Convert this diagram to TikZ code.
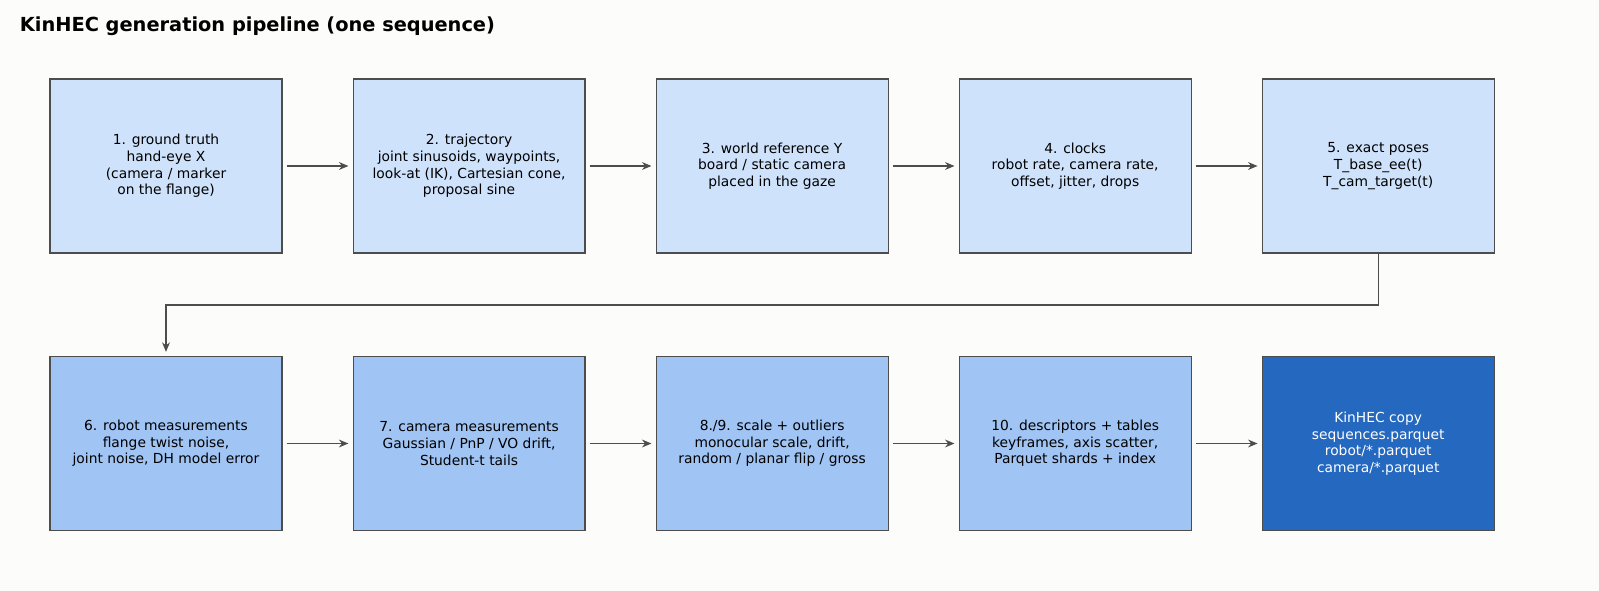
\documentclass[tikz,border=0pt]{standalone}
\usepackage{fontspec}
\setmainfont{DejaVu Sans}
\usetikzlibrary{positioning}
\usetikzlibrary{arrows.meta}
\tikzset{>={Stealth[width=2mm,length=2.4mm]}}
\definecolor{bgcol}{HTML}{FCFCFA}
\definecolor{edgecol}{HTML}{4D4D4D}
\definecolor{lightfill}{HTML}{CFE2FB}
\definecolor{midfill}{HTML}{A0C4F3}
\definecolor{darkfill}{HTML}{2468BF}

\begin{document}
\begin{tikzpicture}[x=0.0254cm, y=-0.0254cm, font=\fontsize{10}{12}\selectfont,
    stage/.style={rectangle, draw=edgecol, thick, minimum width=5.893cm, minimum height=4.42cm, align=center, inner sep=1pt},
    first/.style={stage, fill=lightfill},
    second/.style={stage, fill=midfill},
    last/.style={stage, fill=darkfill, text=white},
    link/.style={->, draw=edgecol, thick, shorten >=3pt, shorten <=3pt}]

    \fill[bgcol] (0,0) rectangle (1599,591);
    \useasboundingbox (0,0) rectangle (1599,591);
    \node[anchor=west, font=\fontsize{14}{16}\selectfont\bfseries](title) at (15,26){KinHEC generation pipeline (one sequence)};

    %Nodes
    \node[first](truth) at (166,166){1. ground truth\\hand-eye X\\(camera / marker\\on the flange)};
    \node[first](traj)[right=1.778cm of truth]{2. trajectory\\joint sinusoids, waypoints,\\look-at (IK), Cartesian cone,\\proposal sine};
    \node[first](world)[right=1.778cm of traj]{3. world reference Y\\board / static camera\\placed in the gaze};
    \node[first](clocks)[right=1.778cm of world]{4. clocks\\robot rate, camera rate,\\offset, jitter, drops};
    \node[first](poses)[right=1.778cm of clocks]{5. exact poses\\T\_base\_ee(t)\\T\_cam\_target(t)};
    \node[second](robot) at (166,443.5){6. robot measurements\\flange twist noise,\\joint noise, DH model error};
    \node[second](camera)[right=1.778cm of robot]{7. camera measurements\\Gaussian / PnP / VO drift,\\Student-t tails};
    \node[second](scale)[right=1.778cm of camera]{8./9. scale + outliers\\monocular scale, drift,\\random / planar flip / gross};
    \node[second](desc)[right=1.778cm of scale]{10. descriptors + tables\\keyframes, axis scatter,\\Parquet shards + index};
    \node[last](copy)[right=1.778cm of desc]{KinHEC copy\\sequences.parquet\\robot/*.parquet\\camera/*.parquet};
    \coordinate(bend) at (166,305);

    %Lines
    \draw[link] (truth) -- (traj);
    \draw[link] (traj) -- (world);
    \draw[link] (world) -- (clocks);
    \draw[link] (clocks) -- (poses);
    \draw[link, shorten <=0pt] (poses.south) |- (bend) -- (robot.north);
    \draw[link] (robot) -- (camera);
    \draw[link] (camera) -- (scale);
    \draw[link] (scale) -- (desc);
    \draw[link] (desc) -- (copy);
\end{tikzpicture}
\end{document}
